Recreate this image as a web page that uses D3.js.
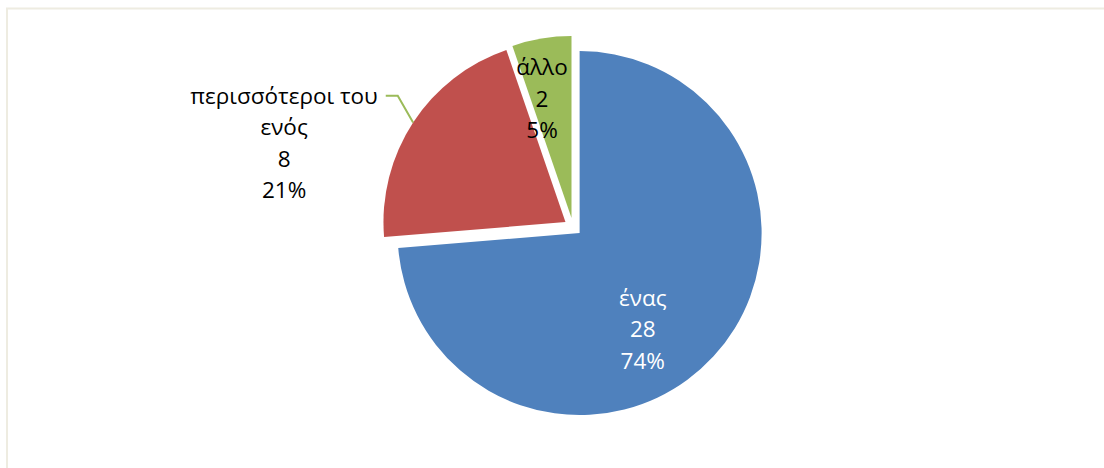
<!DOCTYPE html>
<html>
<head>
<meta charset="utf-8">
<script src="https://cdn.jsdelivr.net/npm/d3@7"></script>
<style>
  html, body { margin: 0; padding: 0; background: #fff; }
  svg { display: block; }
  text { font-family: "Open Sans", "Noto Sans", sans-serif; font-size: 22.5px; }
</style>
</head>
<body>
<script>
// data
const categories = ["ένας", "περισσότεροι του ενός", "άλλο"];
const values = [28, 8, 2];
const percents = ["74%", "21%", "5%"];
const labelLines = [["ένας"], ["περισσότεροι του", "ενός"], ["άλλο"]];

const w = 1104, h = 468;
const colors = ["#4f81bd", "#c0504d", "#9bbb59"];
const cx = 573, cy = 227, r = 182, explode = 9;
const lineH = 31.5;

const svg = d3.select("body").append("svg")
  .attr("width", w)
  .attr("height", h);

// chart area border
svg.append("rect")
  .attr("x", 7).attr("y", 8.5)
  .attr("width", w).attr("height", h)
  .attr("fill", "#fff")
  .attr("stroke", "#eeece1")
  .attr("stroke-width", 2);

const pie = d3.pie().sort(null).value(d => d);
const arcs = pie(values);
const arc = d3.arc().innerRadius(0).outerRadius(r);

// polar helper, angle clockwise from top (radians)
const polar = (a, rad) => [Math.sin(a) * rad, -Math.cos(a) * rad];

const g = svg.append("g").attr("transform", `translate(${cx},${cy})`);

const slices = g.selectAll("g.slice")
  .data(arcs)
  .enter()
  .append("g")
  .attr("class", "slice")
  .attr("transform", d => {
    const [dx, dy] = polar((d.startAngle + d.endAngle) / 2, explode);
    return `translate(${dx},${dy})`;
  });

slices.append("path")
  .attr("d", arc)
  .attr("fill", (d, i) => colors[i]);

// label placement (polar offsets relative to each slice centre)
const toRad = deg => deg * Math.PI / 180;
const labelPlace = [
  { a: toRad(147), rad: 116, fill: "#fff" },
  { a: toRad(285.5), rad: 292, fill: "#000" },
  { a: toRad(346), rad: 122, fill: "#000" }
];

slices.each(function(d, i) {
  const s = d3.select(this);
  const p = labelPlace[i];
  const [lx, ly] = polar(p.a, p.rad);
  const lines = labelLines[i].concat([String(values[i]), percents[i]]);
  const n = lines.length;

  s.append("text")
    .attr("text-anchor", "middle")
    .attr("fill", p.fill)
    .selectAll("tspan")
    .data(lines)
    .enter()
    .append("tspan")
    .attr("x", lx)
    .attr("y", (t, k) => ly + (k - (n - 1) / 2) * lineH + 7)
    .text(t => t);

  // leader line for the outside label
  if (i === 1) {
    const mid = (d.startAngle + d.endAngle) / 2;
    const p0 = polar(mid, r);
    const p1 = polar(toRad(307), 210);
    const p2 = [p1[0] - 12, p1[1]];
    s.append("path")
      .attr("d", d3.line()([p0, p1, p2]))
      .attr("fill", "none")
      .attr("stroke", "#9bbb59")
      .attr("stroke-width", 2);
  }
});
</script>
</body>
</html>
